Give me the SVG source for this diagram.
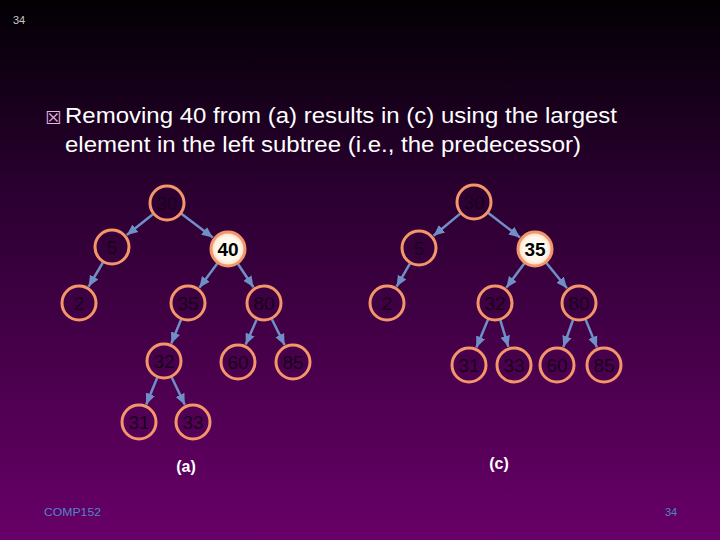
<svg xmlns="http://www.w3.org/2000/svg" width="720" height="540" viewBox="0 0 720 540">
<defs>
<linearGradient id="bg" x1="0" y1="0" x2="0" y2="1">
<stop offset="0" stop-color="#020003"/>
<stop offset="0.35" stop-color="#2a0030"/>
<stop offset="1" stop-color="#680068"/>
</linearGradient>
<radialGradient id="hl" cx="0.5" cy="0.5" r="0.5">
<stop offset="0" stop-color="#ffffff"/>
<stop offset="0.7" stop-color="#fff6ea"/>
<stop offset="1" stop-color="#f9d9bf"/>
</radialGradient>
<marker id="ah" markerUnits="userSpaceOnUse" markerWidth="11" markerHeight="11" viewBox="0 0 10 10" refX="10" refY="5" orient="auto">
<path d="M0,0.6 L10,5 L0,9.4 z" fill="#6f8fc6"/>
</marker>
<style>
.n circle{fill:none;stroke:#f4956a;stroke-width:3}
.n text{font-family:"Liberation Sans",Arial,sans-serif;font-size:19px;fill:#1a001e;text-anchor:middle}
.h circle{fill:url(#hl)}
.h text{font-weight:bold;fill:#000}
.e line{stroke:#6f8fc6;stroke-width:2.5;marker-end:url(#ah)}
.t{font-family:"Liberation Sans",Arial,sans-serif;fill:#ffffff}
.f{font-family:"Liberation Sans",Arial,sans-serif;font-size:11px;fill:#4f86c8}
</style>
</defs>
<rect width="720" height="540" fill="url(#bg)"/>
<text x="13" y="24" font-family="Liberation Sans Narrow,Liberation Sans,sans-serif" font-size="11" fill="#c8c8c8">34</text>
<text x="45" y="124" font-family="DejaVu Sans,sans-serif" font-size="18" fill="#e6b4e6">☒</text>
<text class="t" x="65" y="123" font-size="22" textLength="552" lengthAdjust="spacingAndGlyphs">Removing 40 from (a) results in (c) using the largest</text>
<text class="t" x="65" y="152" font-size="22" textLength="516" lengthAdjust="spacingAndGlyphs">element in the left subtree (i.e., the predecessor)</text>
<g id="connectors" class="e">
<line x1="152.9" y1="214.2" x2="126.8" y2="235.1"/>
<line x1="181.4" y1="213.8" x2="212.8" y2="237.6"/>
<line x1="102.9" y1="262.5" x2="88.6" y2="286.6"/>
<line x1="217.3" y1="263.5" x2="199.3" y2="287.7"/>
<line x1="238" y1="264" x2="253.5" y2="287.2"/>
<line x1="181.1" y1="319.6" x2="171.3" y2="343.4"/>
<line x1="256.7" y1="319.5" x2="245.7" y2="344.6"/>
<line x1="271.9" y1="319.2" x2="284.6" y2="344.9"/>
<line x1="157.2" y1="377.7" x2="146.2" y2="404.4"/>
<line x1="171.7" y1="377.3" x2="184.8" y2="404.8"/>
<line x1="460.2" y1="213.6" x2="433.6" y2="235.8"/>
<line x1="488.3" y1="213" x2="520" y2="237.4"/>
<line x1="409.9" y1="263.6" x2="396.6" y2="286.6"/>
<line x1="524.3" y1="263.5" x2="506.3" y2="287.7"/>
<line x1="546.4" y1="263" x2="567" y2="288.3"/>
<line x1="488" y1="319.6" x2="476.4" y2="347.5"/>
<line x1="500.3" y1="320.2" x2="508.4" y2="346.8"/>
<line x1="573" y1="320" x2="563.3" y2="347.1"/>
<line x1="585.7" y1="319.7" x2="596.9" y2="347.4"/>
</g>
<g id="a30" class="n"><circle cx="167" cy="203" r="17"/><text x="167" y="209.5">30</text></g>
<g id="a5" class="n"><circle cx="112" cy="247" r="17"/><text x="112" y="253.5">5</text></g>
<g id="a40" class="n h"><circle cx="228" cy="249" r="17"/><text x="228" y="255.5">40</text></g>
<g id="a2" class="n"><circle cx="79" cy="303" r="17"/><text x="79" y="309.5">2</text></g>
<g id="a35" class="n"><circle cx="188" cy="303" r="17"/><text x="188" y="309.5">35</text></g>
<g id="a80" class="n"><circle cx="264" cy="303" r="17"/><text x="264" y="309.5">80</text></g>
<g id="a32" class="n"><circle cx="164" cy="361" r="17"/><text x="164" y="367.5">32</text></g>
<g id="a60" class="n"><circle cx="238" cy="362" r="17"/><text x="238" y="368.5">60</text></g>
<g id="a85" class="n"><circle cx="293" cy="362" r="17"/><text x="293" y="368.5">85</text></g>
<g id="a31" class="n"><circle cx="139" cy="422" r="17"/><text x="139" y="428.5">31</text></g>
<g id="a33" class="n"><circle cx="193" cy="422" r="17"/><text x="193" y="428.5">33</text></g>
<g id="c30" class="n"><circle cx="474" cy="202" r="17"/><text x="474" y="208.5">30</text></g>
<g id="c5" class="n"><circle cx="419" cy="248" r="17"/><text x="419" y="254.5">5</text></g>
<g id="c35" class="n h"><circle cx="535" cy="249" r="17"/><text x="535" y="255.5">35</text></g>
<g id="c2" class="n"><circle cx="387" cy="303" r="17"/><text x="387" y="309.5">2</text></g>
<g id="c32" class="n"><circle cx="495" cy="303" r="17"/><text x="495" y="309.5">32</text></g>
<g id="c80" class="n"><circle cx="579" cy="303" r="17"/><text x="579" y="309.5">80</text></g>
<g id="c31" class="n"><circle cx="469" cy="365" r="17"/><text x="469" y="371.5">31</text></g>
<g id="c33" class="n"><circle cx="514" cy="365" r="17"/><text x="514" y="371.5">33</text></g>
<g id="c60" class="n"><circle cx="557" cy="365" r="17"/><text x="557" y="371.5">60</text></g>
<g id="c85" class="n"><circle cx="604" cy="365" r="17"/><text x="604" y="371.5">85</text></g>
<text class="t" x="186" y="472" font-size="16" font-weight="bold" text-anchor="middle">(a)</text>
<text class="t" x="499" y="469" font-size="16" font-weight="bold" text-anchor="middle">(c)</text>
<text class="f" x="44" y="516" textLength="57" lengthAdjust="spacingAndGlyphs">COMP152</text>
<text class="f" x="665" y="516">34</text>
</svg>
